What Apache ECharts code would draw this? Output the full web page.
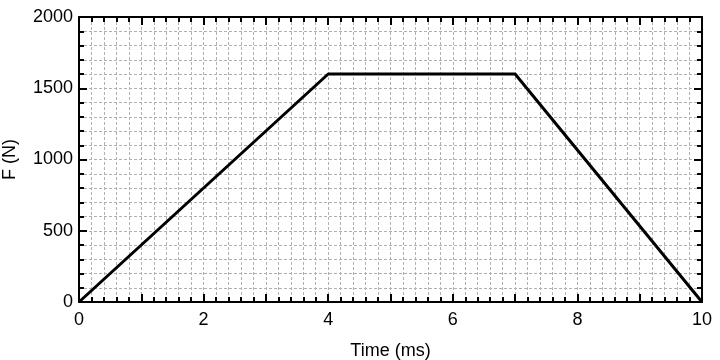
<!DOCTYPE html>
<html><head><meta charset="utf-8">
<script src="https://cdn.jsdelivr.net/npm/echarts@6/dist/echarts.min.js"></script>
<style>html,body{margin:0;padding:0;background:#fff}#c{width:720px;height:360px}</style>
</head><body><div id="c"></div>
<script>
const timeMs = [0, 4, 7, 10];
const forceN = [0, 1600, 1600, 0];
const xLabel = 'Time (ms)';
const yLabel = 'F (N)';

const font = 'Liberation Sans, Arial, Helvetica, sans-serif';
const gridLine = {show: true, lineStyle: {color: '#b0b0b0', width: 1, type: [3, 2]}};
function xAxisDef(pos, labels) {
  return {
    type: 'value', position: pos, min: 0, max: 10, interval: 1,
    name: labels ? xLabel : '', nameLocation: 'middle', nameGap: 40,
    nameTextStyle: {fontFamily: font, fontSize: 18, color: '#000'},
    axisLine: {show: true, onZero: false, lineStyle: {color: '#000', width: 2}},
    axisTick: {show: true, inside: true, length: 8, lineStyle: {color: '#000', width: 2}},
    minorTick: {show: true, splitNumber: 5, length: 5, lineStyle: {color: '#000', width: 2}},
    axisLabel: {show: labels, fontFamily: font, fontSize: 18, color: '#000', margin: 9,
      formatter: v => (v % 2 === 0 ? String(v) : '')},
    splitLine: labels ? gridLine : {show: false},
    minorSplitLine: labels ? gridLine : {show: false}
  };
}
function yAxisDef(pos, labels) {
  return {
    type: 'value', position: pos, min: 0, max: 2000, interval: 500,
    name: labels ? yLabel : '', nameLocation: 'middle', nameGap: 60,
    nameTextStyle: {fontFamily: font, fontSize: 18, color: '#000'},
    axisLine: {show: true, onZero: false, lineStyle: {color: '#000', width: 2}},
    axisTick: {show: true, inside: true, length: 8, lineStyle: {color: '#000', width: 2}},
    minorTick: {show: true, splitNumber: 5, length: 5, lineStyle: {color: '#000', width: 2}},
    axisLabel: {show: labels, fontFamily: font, fontSize: 18, color: '#000', margin: 6,
      formatter: v => String(v)},
    splitLine: labels ? gridLine : {show: false},
    minorSplitLine: labels ? gridLine : {show: false}
  };
}
const chart = echarts.init(document.getElementById('c'), null, {renderer: 'canvas'});
chart.setOption({
  animation: false,
  backgroundColor: '#fff',
  grid: {left: 79, right: 18, top: 17, bottom: 58, containLabel: false, outerBoundsMode: 'none'},
  xAxis: [xAxisDef('bottom', true), xAxisDef('top', false)],
  yAxis: [yAxisDef('left', true), yAxisDef('right', false)],
  series: [{
    type: 'line', xAxisIndex: 0, yAxisIndex: 0,
    data: timeMs.map((t, i) => [t, forceN[i]]),
    symbol: 'none', lineStyle: {color: '#000', width: 3}, z: 10
  }]
});
</script></body></html>
